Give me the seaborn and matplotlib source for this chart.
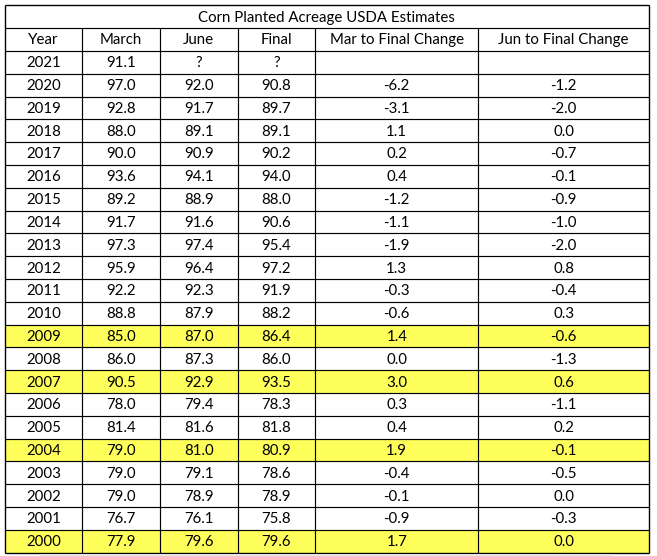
import numpy as np
import pandas as pd
import matplotlib
matplotlib.use("Agg")
import matplotlib.pyplot as plt
import seaborn as sns
from matplotlib.colors import ListedColormap
from matplotlib.lines import Line2D

title = "Corn Planted Acreage USDA Estimates"
headers = ["Year", "March", "June", "Final", "Mar to Final Change", "Jun to Final Change"]
years = [2021, 2020, 2019, 2018, 2017, 2016, 2015, 2014, 2013, 2012, 2011,
         2010, 2009, 2008, 2007, 2006, 2005, 2004, 2003, 2002, 2001, 2000]
march = [91.1, 97.0, 92.8, 88.0, 90.0, 93.6, 89.2, 91.7, 97.3, 95.9, 92.2,
         88.8, 85.0, 86.0, 90.5, 78.0, 81.4, 79.0, 79.0, 79.0, 76.7, 77.9]
june = ["?", 92.0, 91.7, 89.1, 90.9, 94.1, 88.9, 91.6, 97.4, 96.4, 92.3,
        87.9, 87.0, 87.3, 92.9, 79.4, 81.6, 81.0, 79.1, 78.9, 76.1, 79.6]
final = ["?", 90.8, 89.7, 89.1, 90.2, 94.0, 88.0, 90.6, 95.4, 97.2, 91.9,
         88.2, 86.4, 86.0, 93.5, 78.3, 81.8, 80.9, 78.6, 78.9, 75.8, 79.6]
mar_to_final = ["", -6.2, -3.1, 1.1, 0.2, 0.4, -1.2, -1.1, -1.9, 1.3, -0.3,
                -0.6, 1.4, 0.0, 3.0, 0.3, 0.4, 1.9, -0.4, -0.1, -0.9, 1.7]
jun_to_final = ["", -1.2, -2.0, 0.0, -0.7, -0.1, -0.9, -1.0, -2.0, 0.8, -0.4,
                0.3, -0.6, -1.3, 0.6, -1.1, 0.2, -0.1, -0.5, 0.0, -0.3, 0.0]
highlight_years = [2009, 2007, 2004, 2000]

col_units = [10, 10, 10, 10, 21, 22]
yellow = "#FFFF5C"
font = ["Lato", "DejaVu Sans"]
fsize = 10.8


def fmt(v):
    if isinstance(v, str):
        return v
    return f"{v:.1f}"


columns = [years, march, june, final, mar_to_final, jun_to_final]
nrows = 2 + len(years)
ncols = len(headers)

flags = np.zeros((nrows, ncols))
for i, y in enumerate(years):
    if y in highlight_years:
        flags[i + 2, :] = 1
expanded = np.repeat(flags, col_units, axis=1)
df = pd.DataFrame(expanded)

W, H, dpi = 657, 556, 100
fig = plt.figure(figsize=(W / dpi, H / dpi), dpi=dpi)
left, right, top, bottom = 4.7, 649.0, 5.3, 552.7
ax = fig.add_axes([left / W, (H - bottom) / H, (right - left) / W, (bottom - top) / H])

sns.heatmap(df, cmap=ListedColormap(["white", yellow]), vmin=0, vmax=1,
            cbar=False, linewidths=0, xticklabels=False, yticklabels=False, ax=ax)

edges = np.concatenate([[0], np.cumsum(col_units)])
total = edges[-1]
lw = 0.85
ax.hlines(np.arange(1, nrows), 0, total, color="black", lw=lw)
ax.vlines(edges[1:-1], 1, nrows, color="black", lw=lw)
ax.hlines([0, nrows], 0, total, color="black", lw=1.0, clip_on=False)
ax.vlines([0, total], 0, nrows, color="black", lw=1.0, clip_on=False)

centers = (edges[:-1] + edges[1:]) / 2
dy = 0.04
ax.text(total / 2, 0.5 + dy, title, ha="center", va="center", family=font, fontsize=fsize)
for c, h in enumerate(headers):
    ax.text(centers[c], 1.5 + dy, h, ha="center", va="center", family=font, fontsize=fsize)
for c, col in enumerate(columns):
    for i, v in enumerate(col):
        s = str(v) if c == 0 else fmt(v)
        ax.text(centers[c], i + 2.5 + dy, s, ha="center", va="center", family=font, fontsize=fsize)

fig.add_artist(Line2D([40 / W, 612 / W], [1 - 554.5 / H, 1 - 554.5 / H],
                      transform=fig.transFigure, color="#e4e4e4", lw=1.2))

fig.savefig("out.png", dpi=dpi)
